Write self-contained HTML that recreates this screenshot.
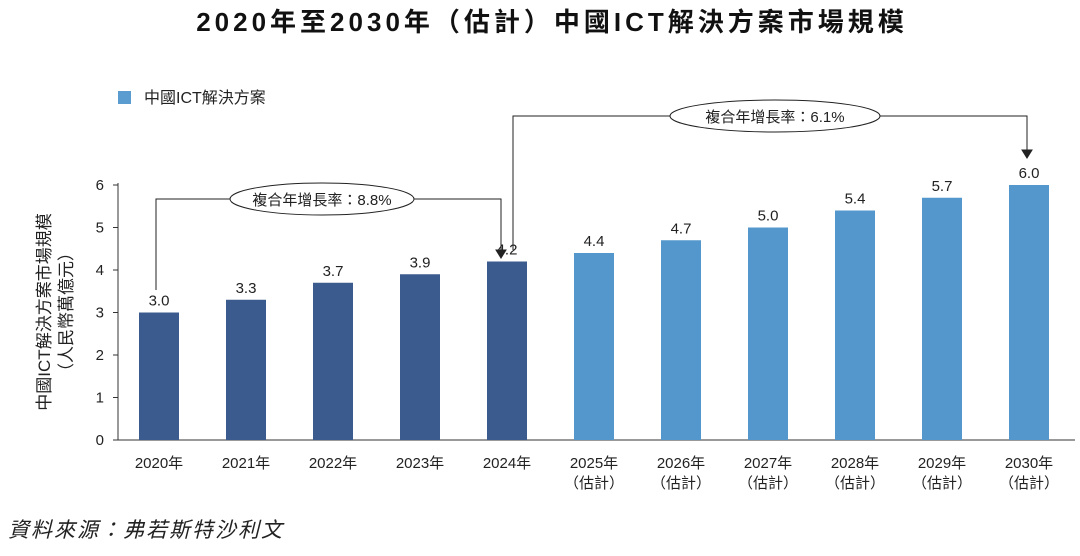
<!DOCTYPE html>
<html><head><meta charset="utf-8">
<style>
body{margin:0;background:#fff;width:1080px;height:551px;overflow:hidden;font-family:"Liberation Sans","Noto Sans CJK TC",sans-serif;}
svg text{font-family:"Liberation Sans","Noto Sans CJK TC",sans-serif;}
</style></head>
<body>
<svg id="chart" width="1080" height="551">
<text x="552" y="31" text-anchor="middle" font-size="26" font-weight="bold" fill="#111" letter-spacing="4">2020年至2030年（估計）中國ICT解決方案市場規模</text>
<rect x="118" y="91" width="13" height="13" fill="#5a9bd0"/>
<text x="144" y="103" font-size="16" fill="#222">中國ICT解決方案</text>
<g transform="translate(50,312) rotate(-90)">
<text x="0" y="0" text-anchor="middle" font-size="17" fill="#222">中國ICT解決方案市場規模</text>
<text x="0" y="22" text-anchor="middle" font-size="17" fill="#222">（人民幣萬億元）</text>
</g>
<g id="axes"></g><g id="bars"></g>
<g fill="none" stroke="#222" stroke-width="1">
<polyline points="156,290 156,199 230,199"/>
<polyline points="414,199 501,199 501,252"/>
<path d="M496,250 L501,258 L506,250 Z" fill="#222"/>
<ellipse cx="322" cy="199" rx="92" ry="16" fill="#fff"/>
</g>
<text x="322" y="205" text-anchor="middle" font-size="15" fill="#222">複合年增長率：8.8%</text>
<g fill="none" stroke="#222" stroke-width="1">
<polyline points="513,250 513,116 670,116"/>
<polyline points="880,116 1027,116 1027,152"/>
<path d="M1022,150 L1027,158 L1032,150 Z" fill="#222"/>
<ellipse cx="775" cy="116" rx="105" ry="16" fill="#fff"/>
</g>
<text x="775" y="122" text-anchor="middle" font-size="15" fill="#222">複合年增長率：6.1%</text>
<text x="8" y="537" font-size="21" font-style="italic" fill="#222" letter-spacing="2">資料來源：弗若斯特沙利文</text>
</svg>
<script>
const categories=["2020年","2021年","2022年","2023年","2024年","2025年","2026年","2027年","2028年","2029年","2030年"];
const values=[3.0,3.3,3.7,3.9,4.2,4.4,4.7,5.0,5.4,5.7,6.0];
const estimated=[false,false,false,false,false,true,true,true,true,true,true];
const yTicks=[0,1,2,3,4,5,6];
const NS="http://www.w3.org/2000/svg";
const y0=440,yTop=185,yMax=6;
const yScale=v=>y0-(y0-yTop)*v/yMax;
const xScale=i=>159+i*87;
function mk(tag,attrs,parent,txt){const e=document.createElementNS(NS,tag);for(const k in attrs)e.setAttribute(k,attrs[k]);if(txt!==undefined)e.textContent=txt;parent.appendChild(e);return e;}
const ax=document.getElementById('axes'),bg=document.getElementById('bars');
let l=mk('line',{x1:118,y1:yTop-2,x2:118,y2:y0,stroke:'#333','stroke-width':1},ax);


l=mk('line',{x1:118,y1:y0,x2:1075,y2:y0,stroke:'#333','stroke-width':1},ax);


yTicks.forEach(t=>{const y=yScale(t);
mk('line',{x1:113,y1:y,x2:118,y2:y,stroke:'#333'},ax);
const tx=mk('text',{x:104,y:y+5,'text-anchor':'end','font-size':15,fill:'#222'},ax,String(t));

});
categories.forEach((c,i)=>{const x=xScale(i),y=yScale(values[i]);
const r=mk('rect',{x:x-20,y:y,width:40,height:y0-y,fill:estimated[i]?'#5497cc':'#3b5b8e'},bg);


const v=mk('text',{x:x,y:y-7,'text-anchor':'middle','font-size':15,fill:'#222'},bg,values[i].toFixed(1));


const t=mk('text',{x:x,y:468,'text-anchor':'middle','font-size':15,fill:'#222'},bg,c);


if(estimated[i]){const e=mk('text',{x:x,y:488,'text-anchor':'middle','font-size':15,fill:'#222'},bg,'（估計）');

}
});
</script>
</body></html>
